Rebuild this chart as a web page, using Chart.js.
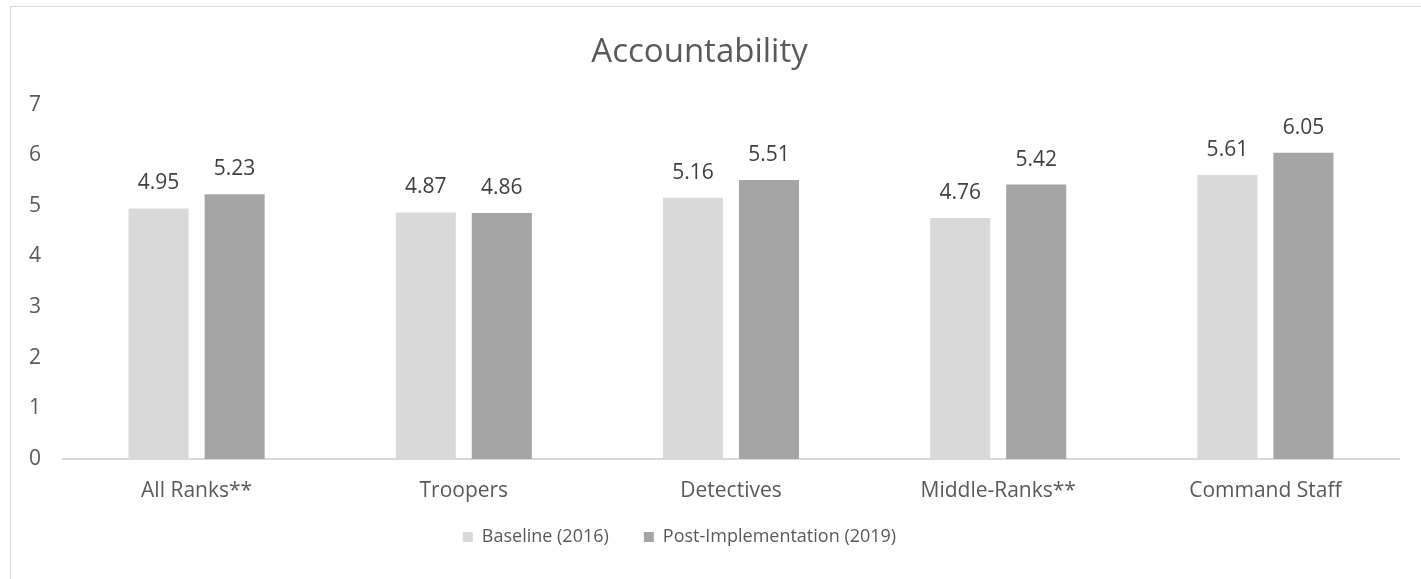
<!DOCTYPE html>
<html>
<head>
<meta charset="utf-8">
<script src="https://cdn.jsdelivr.net/npm/chart.js@4/dist/chart.umd.min.js"></script>
<style>
  html, body { margin: 0; padding: 0; background: #ffffff; overflow: hidden; }
  #wrap { position: absolute; left: 0; top: 0; width: 1421px; height: 579px; }
  #frame { position: absolute; left: 10px; top: 6px; width: 1500px; height: 700px;
           border-left: 1px solid #d9d9d9; border-top: 1px solid #d9d9d9; pointer-events: none; }
</style>
</head>
<body>
<div id="wrap"><canvas id="c" width="1421" height="579"></canvas></div>
<div id="frame"></div>
<script>
const categories = ['All Ranks**', 'Troopers', 'Detectives', 'Middle-Ranks**', 'Command Staff'];
const baseline2016 = [4.95, 4.87, 5.16, 4.76, 5.61];
const post2019 = [5.23, 4.86, 5.51, 5.42, 6.05];
const seriesNames = ['Baseline (2016)', 'Post-Implementation (2019)'];
const yTicks = [0, 1, 2, 3, 4, 5, 6, 7];

const FONT = "'Open Sans', 'Noto Sans', sans-serif";
const TEXT = '#595959';

// Writes each bar's value just above it
const valueLabels = {
  id: 'valueLabels',
  afterDatasetsDraw(chart) {
    const ctx = chart.ctx;
    ctx.save();
    ctx.font = '21px ' + FONT;
    ctx.fillStyle = '#404040';
    ctx.textAlign = 'center';
    ctx.textBaseline = 'middle';
    chart.data.datasets.forEach((ds, i) => {
      chart.getDatasetMeta(i).data.forEach((bar, j) => {
        ctx.fillText(ds.data[j].toFixed(2), bar.x, bar.y - 25);
      });
    });
    ctx.restore();
  }
};

// Nudges the legend block up and slightly left of its default spot
const legendNudge = {
  id: 'legendNudge',
  afterLayout(chart) {
    const lg = chart.legend;
    if (!lg) return;
    lg.top -= 12; lg.bottom -= 12;
    lg.left -= 20; lg.right -= 20;
  }
};

new Chart(document.getElementById('c'), {
  type: 'bar',
  data: {
    labels: categories,
    datasets: [
      { label: seriesNames[0], data: baseline2016, backgroundColor: '#d9d9d9' },
      { label: seriesNames[1], data: post2019, backgroundColor: '#a5a5a5' }
    ]
  },
  options: {
    responsive: false,
    animation: false,
    devicePixelRatio: 1,
    categoryPercentage: 0.569,
    barPercentage: 0.79,
    layout: { padding: { left: 0, right: 22, top: 0, bottom: 11 } },
    plugins: {
      title: {
        display: true,
        text: 'Accountability',
        color: TEXT,
        font: { family: FONT, size: 33, weight: 'normal' },
        padding: { top: 33, bottom: 32 }
      },
      legend: {
        position: 'bottom',
        labels: {
          color: TEXT,
          font: { family: FONT, size: 18 },
          boxWidth: 10,
          boxHeight: 10,
          padding: 35
        }
      },
      tooltip: { enabled: false }
    },
    scales: {
      x: {
        afterFit(scale) { scale.height = 46; },
        grid: { display: false, drawTicks: false },
        border: { display: true, color: '#d9d9d9', width: 2 },
        ticks: { color: TEXT, font: { family: FONT, size: 21 }, padding: 19 }
      },
      y: {
        min: 0,
        max: 7,
        afterBuildTicks(scale) { scale.ticks = yTicks.map(v => ({ value: v })); },
        afterFit(scale) { scale.width = 63; },
        grid: { display: false, drawTicks: false },
        border: { display: false },
        ticks: { color: TEXT, font: { family: FONT, size: 21 }, padding: 22 }
      }
    }
  },
  plugins: [valueLabels, legendNudge]
});
</script>
</body>
</html>
